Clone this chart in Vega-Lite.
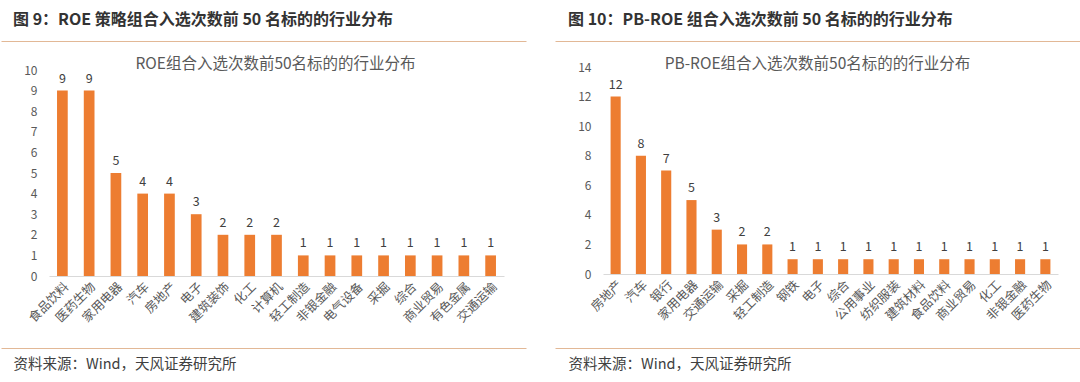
{
  "$schema": "https://vega.github.io/schema/vega-lite/v6.json",
  "background": "white",
  "padding": {"top": 11, "left": 0, "right": 0, "bottom": 0},
  "config": {
    "font": "Noto Sans CJK SC",
    "concat": {"spacing": 27}
  },
  "datasets": {
    "roe": [
      {"ind": "食品饮料", "n": 9}, {"ind": "医药生物", "n": 9}, {"ind": "家用电器", "n": 5},
      {"ind": "汽车", "n": 4}, {"ind": "房地产", "n": 4}, {"ind": "电子", "n": 3},
      {"ind": "建筑装饰", "n": 2}, {"ind": "化工", "n": 2}, {"ind": "计算机", "n": 2},
      {"ind": "轻工制造", "n": 1}, {"ind": "非银金融", "n": 1}, {"ind": "电气设备", "n": 1},
      {"ind": "采掘", "n": 1}, {"ind": "综合", "n": 1}, {"ind": "商业贸易", "n": 1},
      {"ind": "有色金属", "n": 1}, {"ind": "交通运输", "n": 1}
    ],
    "pbroe": [
      {"ind": "房地产", "n": 12}, {"ind": "汽车", "n": 8}, {"ind": "银行", "n": 7},
      {"ind": "家用电器", "n": 5}, {"ind": "交通运输", "n": 3}, {"ind": "采掘", "n": 2},
      {"ind": "轻工制造", "n": 2}, {"ind": "钢铁", "n": 1}, {"ind": "电子", "n": 1},
      {"ind": "综合", "n": 1}, {"ind": "公用事业", "n": 1}, {"ind": "纺织服装", "n": 1},
      {"ind": "建筑材料", "n": 1}, {"ind": "食品饮料", "n": 1}, {"ind": "商业贸易", "n": 1},
      {"ind": "化工", "n": 1}, {"ind": "非银金融", "n": 1}, {"ind": "医药生物", "n": 1}
    ]
  },
  "hconcat": [
    {
      "data": {"name": "roe"},
      "width": 525,
      "height": 307,
      "view": {"stroke": "#E2B896", "strokeWidth": 1, "strokeDash": [525, 307]},
      "title": {"text": "图 9：ROE 策略组合入选次数前 50 名标的的行业分布", "anchor": "start", "frame": "group", "dx": 12, "offset": 13, "fontSize": 16, "fontWeight": "bold", "color": "#333333"},
      "resolve": {"axis": {"x": "independent"}},
      "layer": [
        {
          "mark": {"type": "bar", "color": "#ED7D31"},
          "encoding": {
            "x": {"field": "ind", "type": "nominal", "sort": null,
              "scale": {"range": [48, 503], "paddingInner": 0.6, "paddingOuter": 0.3},
              "axis": {"orient": "bottom", "offset": -72, "labelAngle": -45, "labelFontSize": 12.5, "labelColor": "#595959", "labelOverlap": false, "labelPadding": 4, "ticks": false, "domainColor": "#D9D9D9", "grid": false,
                "title": "资料来源：Wind，天风证券研究所", "titleX": 12, "titleY": 88, "titleAlign": "left", "titleBaseline": "middle", "titleFontSize": 14.5, "titleFontWeight": "normal", "titleColor": "#404040"}},
            "y": {"field": "n", "type": "quantitative",
              "scale": {"domain": [0, 10], "range": [235, 29], "nice": false},
              "axis": {"offset": -48, "values": [0,1,2,3,4,5,6,7,8,9,10], "labelOverlap": false, "domain": false, "ticks": false, "grid": false, "labelPadding": 12, "labelFontSize": 12, "labelColor": "#595959", "title": null}}
          }
        },
        {
          "mark": {"type": "text", "baseline": "bottom", "dy": -5, "fontSize": 12.5, "color": "#404040"},
          "encoding": {
            "x": {"field": "ind", "type": "nominal", "sort": null,
              "axis": {"orient": "top", "labels": false, "ticks": false, "domain": false, "grid": false,
                "title": "ROE组合入选次数前50名标的的行业分布", "titleX": 274, "titleY": 22, "titleAlign": "center", "titleBaseline": "middle", "titleFontSize": 15.5, "titleFontWeight": "normal", "titleColor": "#595959"}},
            "y": {"field": "n", "type": "quantitative",
              "axis": {"offset": -48, "values": [0,1,2,3,4,5,6,7,8,9,10], "labelOverlap": false, "domain": false, "ticks": false, "grid": false, "labelPadding": 12, "labelFontSize": 12, "labelColor": "#595959", "title": null}},
            "text": {"field": "n", "type": "quantitative"}
          }
        }
      ]
    },
    {
      "data": {"name": "pbroe"},
      "width": 526,
      "height": 307,
      "view": {"stroke": "#E2B896", "strokeWidth": 1, "strokeDash": [526, 307]},
      "title": {"text": "图 10：PB-ROE 组合入选次数前 50 名标的的行业分布", "anchor": "start", "frame": "group", "dx": 13, "offset": 13, "fontSize": 16, "fontWeight": "bold", "color": "#333333"},
      "resolve": {"axis": {"x": "independent"}},
      "layer": [
        {
          "mark": {"type": "bar", "color": "#ED7D31"},
          "encoding": {
            "x": {"field": "ind", "type": "nominal", "sort": null,
              "scale": {"range": [48, 503], "paddingInner": 0.6, "paddingOuter": 0.3},
              "axis": {"orient": "bottom", "offset": -74, "labelAngle": -45, "labelFontSize": 12.5, "labelColor": "#595959", "labelOverlap": false, "labelPadding": 4, "ticks": false, "domainColor": "#D9D9D9", "grid": false,
                "title": "资料来源：Wind，天风证券研究所", "titleX": 13, "titleY": 90, "titleAlign": "left", "titleBaseline": "middle", "titleFontSize": 14.5, "titleFontWeight": "normal", "titleColor": "#404040"}},
            "y": {"field": "n", "type": "quantitative",
              "scale": {"domain": [0, 14], "range": [233, 26], "nice": false},
              "axis": {"offset": -48, "values": [0,2,4,6,8,10,12,14], "labelOverlap": false, "domain": false, "ticks": false, "grid": false, "labelPadding": 12, "labelFontSize": 12, "labelColor": "#595959", "title": null}}
          }
        },
        {
          "mark": {"type": "text", "baseline": "bottom", "dy": -5, "fontSize": 12.5, "color": "#404040"},
          "encoding": {
            "x": {"field": "ind", "type": "nominal", "sort": null,
              "axis": {"orient": "top", "labels": false, "ticks": false, "domain": false, "grid": false,
                "title": "PB-ROE组合入选次数前50名标的的行业分布", "titleX": 262, "titleY": 22, "titleAlign": "center", "titleBaseline": "middle", "titleFontSize": 15.5, "titleFontWeight": "normal", "titleColor": "#595959"}},
            "y": {"field": "n", "type": "quantitative",
              "axis": {"offset": -48, "values": [0,2,4,6,8,10,12,14], "labelOverlap": false, "domain": false, "ticks": false, "grid": false, "labelPadding": 12, "labelFontSize": 12, "labelColor": "#595959", "title": null}},
            "text": {"field": "n", "type": "quantitative"}
          }
        }
      ]
    }
  ]
}
